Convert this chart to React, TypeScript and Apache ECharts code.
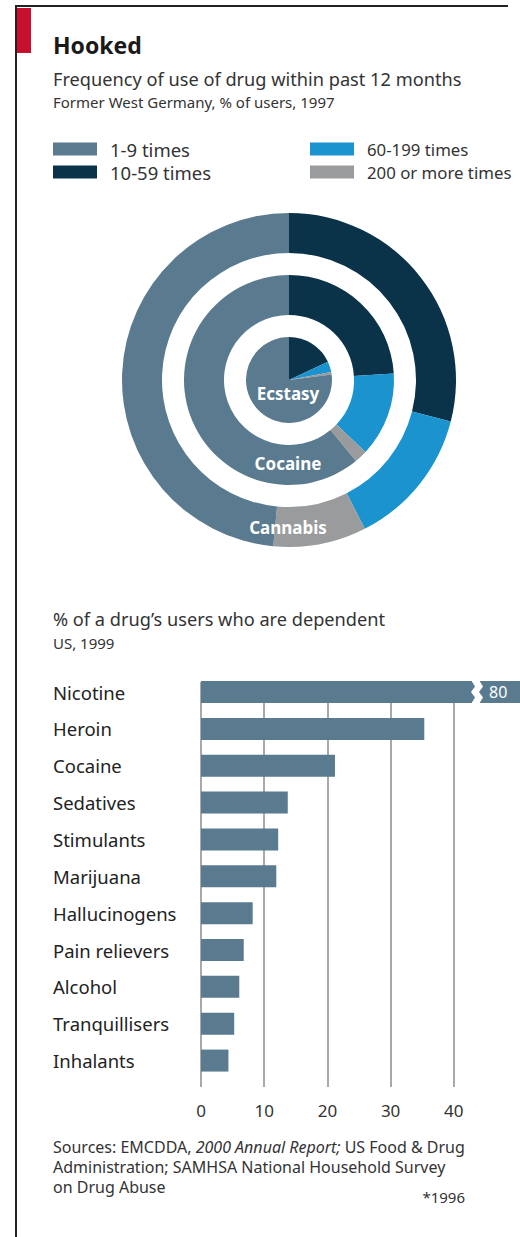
import React, { useEffect, useRef } from "react";
import * as echarts from "echarts";

// ---------- data ----------
const legendLabels = ["1-9 times", "10-59 times", "60-199 times", "200 or more times"];
const ringDrugs = ["Ecstasy", "Cocaine", "Cannabis"];
// shares per legend category (1-9, 10-59, 60-199, 200+), % of users
const ecstasyShares = [77, 18, 4, 1];
const cocaineShares = [61, 24, 13, 2];
const cannabisShares = [48.5, 29, 13.5, 9];

const barDrugs = [
  "Nicotine", "Heroin", "Cocaine", "Sedatives", "Stimulants", "Marijuana",
  "Hallucinogens", "Pain relievers", "Alcohol", "Tranquillisers", "Inhalants",
];
const dependentPct = [80, 35, 21, 13.6, 12.1, 11.8, 8.1, 6.7, 6.0, 5.2, 4.3];
const xTickLabels = [0, 10, 20, 30, 40];

// ---------- style ----------
const FONT = "Noto Sans";
const SLATE = "#5a7b8f";
const NAVY = "#0a3249";
const BLUE = "#1a93cf";
const GREY = "#9a9b9d";
const catColors = [SLATE, NAVY, BLUE, GREY];
const clockOrder = [1, 2, 3, 0]; // draw order clockwise from 12 o'clock

function pieData(shares: number[]) {
  return clockOrder.map((i) => ({
    name: legendLabels[i],
    value: shares[i],
    itemStyle: { color: catColors[i] },
  }));
}

export default function App() {
  const ref = useRef<HTMLDivElement>(null);
  useEffect(() => {
    if (!ref.current) return;
    const chart = echarts.init(ref.current, undefined, { renderer: "svg" });
    const center = [289, 380];
    const pieCommon = {
      type: "pie",
      center,
      startAngle: 90,
      clockwise: true,
      label: { show: false },
      labelLine: { show: false },
      silent: true,
      emphasis: { disabled: true },
      itemStyle: { borderWidth: 0 },
    };
    const txt = (x: number, y: number, text: string, size: number, extra: any = {}) => ({
      type: "text",
      x,
      y,
      z: 100,
      style: {
        text,
        fontFamily: FONT,
        fontSize: size,
        fill: "#333",
        textVerticalAlign: "middle",
        ...extra,
      },
    });
    const legendCommon = {
      orient: "vertical",
      top: 134,
      itemWidth: 44,
      itemHeight: 13,
      itemGap: 3,
      icon: "rect",
      selectedMode: false,
    };
    const legendText = (size: number) => ({
      fontFamily: FONT,
      fontSize: size,
      color: "#333",
      lineHeight: 20,
      padding: [0, 0, 0, 8],
    });
    const option: any = {
      animation: false,
      backgroundColor: "#fff",
      textStyle: { fontFamily: FONT },
      legend: [
        { ...legendCommon, data: legendLabels.slice(0, 2), left: 48, textStyle: legendText(18.5) },
        { ...legendCommon, data: legendLabels.slice(2, 4), left: 305, textStyle: legendText(16.8) },
      ],
      grid: [
        { left: 201, top: 673.6, width: 321, height: 405.4 },
        { left: 201, top: 682, width: 321, height: 405 },
      ],
      xAxis: [
        { gridIndex: 0, type: "value", min: 0, max: 50, interval: 10, show: false },
        {
          gridIndex: 1,
          type: "value",
          min: 0,
          max: 50,
          interval: 10,
          axisLine: { show: false },
          axisTick: { show: false },
          splitLine: { show: true, showMaxLine: false, lineStyle: { color: "#8c8c8c", width: 1.5 } },
          axisLabel: {
            margin: 15,
            fontFamily: FONT,
            fontSize: 17,
            color: "#333",
            formatter: (v: number) => (xTickLabels.indexOf(v) >= 0 ? String(v) : ""),
          },
        },
      ],
      yAxis: [
        {
          gridIndex: 0,
          type: "category",
          data: barDrugs,
          inverse: true,
          axisLine: { show: false },
          axisTick: { show: false },
          splitLine: { show: false },
          axisLabel: { align: "left", margin: 148, fontFamily: FONT, fontSize: 18.5, color: "#222" },
        },
        { gridIndex: 1, type: "value", min: 0, max: 1, show: false },
      ],
      series: [
        { ...pieCommon, name: ringDrugs[0], radius: [0, 43], data: pieData(ecstasyShares) },
        { ...pieCommon, name: ringDrugs[1], radius: [65, 105], data: pieData(cocaineShares) },
        { ...pieCommon, name: ringDrugs[2], radius: [127, 167], data: pieData(cannabisShares) },
        {
          type: "bar",
          xAxisIndex: 0,
          yAxisIndex: 0,
          data: dependentPct,
          barWidth: 22,
          clip: true,
          silent: true,
          itemStyle: { color: SLATE },
        },
        { type: "line", xAxisIndex: 1, yAxisIndex: 1, data: [], silent: true },
      ],
      graphic: [
        { type: "rect", shape: { x: 16, y: 8, width: 15, height: 45 }, style: { fill: "#c8102e" }, z: 100 },
        { type: "line", shape: { x1: 16, y1: 6, x2: 16, y2: 1237 }, style: { stroke: "#222", lineWidth: 2 }, z: 100 },
        { type: "line", shape: { x1: 15, y1: 6, x2: 508, y2: 6 }, style: { stroke: "#222", lineWidth: 2 }, z: 100 },
        txt(53, 45, "Hooked", 23, { fontWeight: "bold", fill: "#1a1a1a" }),
        txt(53, 78.5, "Frequency of use of drug within past 12 months", 18.2),
        txt(53, 101.5, "Former West Germany, % of users, 1997", 15),
        txt(288, 393, ringDrugs[0], 17, { fontWeight: "bold", fill: "#fff", textAlign: "center" }),
        txt(288, 463, ringDrugs[1], 17, { fontWeight: "bold", fill: "#fff", textAlign: "center" }),
        txt(288, 527, ringDrugs[2], 17, { fontWeight: "bold", fill: "#fff", textAlign: "center" }),
        txt(53, 618.5, "% of a drug\u2019s users who are dependent", 18.2),
        txt(53, 643, "US, 1999", 15),
        {
          type: "polygon",
          z: 100,
          shape: {
            points: [
              [471, 680], [475, 686.5], [471, 692], [475, 697.5], [471, 704],
              [479, 704], [483, 697.5], [479, 692], [483, 686.5], [479, 680],
            ],
          },
          style: { fill: "#fff" },
        },
        txt(489, 692, String(dependentPct[0]), 16, { fill: "#fff" }),
        {
          type: "text",
          x: 53,
          y: 1147,
          z: 100,
          style: {
            text: "Sources: EMCDDA, {i|2000 Annual Report;} US Food & Drug",
            fontFamily: FONT,
            fontSize: 16,
            fill: "#333",
            textVerticalAlign: "middle",
            rich: { i: { fontStyle: "italic", fontFamily: FONT, fontSize: 16, fill: "#333" } },
          },
        },
        txt(53, 1167, "Administration; SAMHSA National Household Survey", 16),
        txt(53, 1187, "on Drug Abuse", 16),
        txt(465, 1197, "*1996", 15, { textAlign: "right" }),
      ],
    };
    chart.setOption(option);
    return () => chart.dispose();
  }, []);
  return (
    <div
      ref={ref}
      style={{ position: "absolute", left: 0, top: 0, width: 520, height: 1237 }}
    />
  );
}
